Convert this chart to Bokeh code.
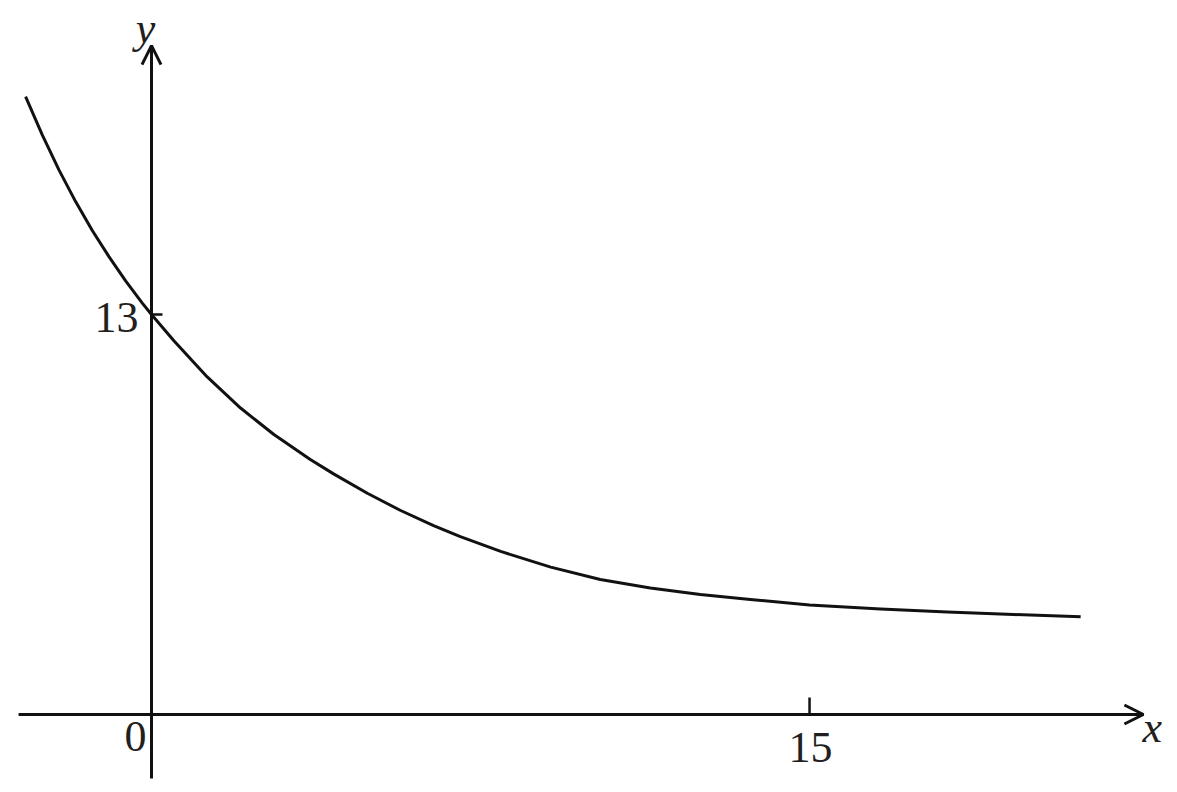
from bokeh.plotting import figure
from bokeh.models import Range1d, Arrow, OpenHead
from bokeh.core.properties import value
from bokeh.embed import file_html
from bokeh.resources import INLINE

# curve
curve_x = [-2.87, -2.49, -2.11, -1.73, -1.35, -0.97, -0.59, -0.21, 0.0, 0.51, 1.27,
           2.03, 2.79, 3.62, 4.15, 4.92, 5.68, 6.43, 7.04, 7.96, 9.10, 10.23, 11.37,
           12.51, 13.65, 15.00, 16.62, 18.14, 19.65, 21.18]
curve_y = [20.08, 18.84, 17.70, 16.67, 15.73, 14.88, 14.09, 13.37, 13.0, 12.15, 10.97,
           9.96, 9.10, 8.29, 7.82, 7.19, 6.63, 6.14, 5.78, 5.30, 4.79, 4.39, 4.11,
           3.90, 3.74, 3.56, 3.43, 3.33, 3.25, 3.18]

x_ticks = [15]
x_tick_labels = ["15"]
y_ticks = [13]
y_tick_labels = ["13"]
origin_label = "0"
x_name = "x"
y_name = "y"

# axis extents (data units)
X_MIN, X_MAX = -3.03, 22.61
Y_MIN, Y_MAX = -2.08, 21.74

W, H = 1170, 784
XR = (-3.442, 23.228)
YR = (-2.275, 23.205)

INK = "#111111"
TXT = "#231f20"
FONT = value("Liberation Serif")

p = figure(width=W, height=H, output_backend="svg", toolbar_location=None,
           x_range=Range1d(*XR), y_range=Range1d(*YR),
           x_axis_type=None, y_axis_type=None, min_border=0,
           outline_line_color=None, background_fill_color="white",
           border_fill_color="white")

# axes with arrowheads
p.add_layout(Arrow(end=OpenHead(size=19, line_width=3, line_color=INK),
                   x_start=X_MIN, y_start=0, x_end=X_MAX, y_end=0,
                   line_width=3, line_color=INK))
p.add_layout(Arrow(end=OpenHead(size=19, line_width=3, line_color=INK),
                   x_start=0, y_start=Y_MIN, x_end=0, y_end=Y_MAX,
                   line_width=3, line_color=INK))

# tick marks
px_per_x = W / (XR[1] - XR[0])
px_per_y = H / (YR[1] - YR[0])
p.segment(x0=[0] * len(y_ticks), y0=y_ticks, x1=[11 / px_per_x] * len(y_ticks), y1=y_ticks,
          line_width=2.5, line_color=INK)
p.segment(x0=x_ticks, y0=[0] * len(x_ticks), x1=x_ticks, y1=[17 / px_per_y] * len(x_ticks),
          line_width=2.5, line_color=INK)

# curve
p.line(curve_x, curve_y, line_width=3, line_color=INK, line_join="round")

# labels
p.text(x=[0] * len(y_ticks), y=y_ticks, text=y_tick_labels, text_font=FONT,
       text_font_size="44px", text_color=TXT, text_align="right",
       text_baseline="alphabetic", x_offset=-13, y_offset=3)
p.text(x=[0], y=[0], text=[origin_label], text_font=FONT, text_font_size="44px",
       text_color=TXT, text_align="right", text_baseline="alphabetic",
       x_offset=-5, y_offset=22)
p.text(x=x_ticks, y=[0] * len(x_ticks), text=x_tick_labels, text_font=FONT,
       text_font_size="44px", text_color=TXT, text_align="center",
       text_baseline="alphabetic", x_offset=1, y_offset=33)
p.text(x=[X_MAX], y=[0], text=[x_name], text_font=FONT, text_font_size="44px",
       text_font_style="italic", text_color=TXT, text_align="left",
       text_baseline="alphabetic", x_offset=-1, y_offset=13)
p.text(x=[0], y=[Y_MAX], text=[y_name], text_font=FONT, text_font_size="44px",
       text_font_style="italic", text_color=TXT, text_align="center",
       text_baseline="alphabetic", x_offset=-6, y_offset=-17)

open("out.html", "w").write(file_html(p, INLINE))
